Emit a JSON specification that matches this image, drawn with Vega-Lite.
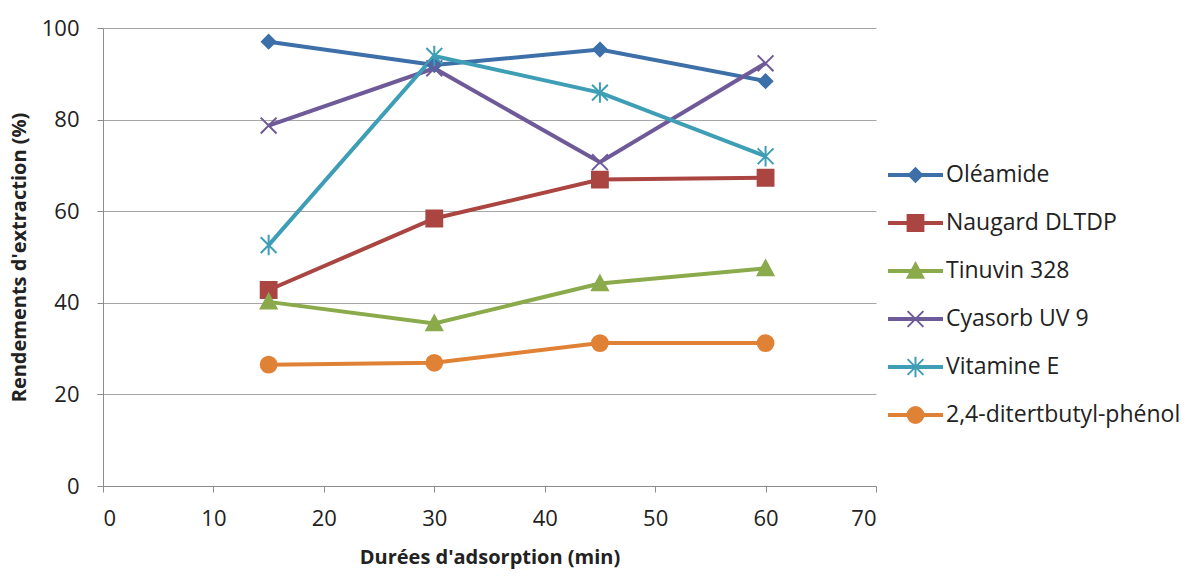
{
  "$schema": "https://vega.github.io/schema/vega-lite/v6.json",
  "padding": {"left": 9, "top": 17, "right": 0, "bottom": 3},
  "config": {"view": {"stroke": null}, "font": "Open Sans", "concat": {"spacing": 9}},
  "datasets": {
    "d": [
      {"series": "Oléamide", "t": 15, "r": 97.0},
      {"series": "Oléamide", "t": 30, "r": 91.9},
      {"series": "Oléamide", "t": 45, "r": 95.3},
      {"series": "Oléamide", "t": 60, "r": 88.4},
      {"series": "Naugard DLTDP", "t": 15, "r": 42.8},
      {"series": "Naugard DLTDP", "t": 30, "r": 58.4},
      {"series": "Naugard DLTDP", "t": 45, "r": 66.9},
      {"series": "Naugard DLTDP", "t": 60, "r": 67.3},
      {"series": "Tinuvin 328", "t": 15, "r": 40.2},
      {"series": "Tinuvin 328", "t": 30, "r": 35.5},
      {"series": "Tinuvin 328", "t": 45, "r": 44.2},
      {"series": "Tinuvin 328", "t": 60, "r": 47.5},
      {"series": "Cyasorb UV 9", "t": 15, "r": 78.7},
      {"series": "Cyasorb UV 9", "t": 30, "r": 91.2},
      {"series": "Cyasorb UV 9", "t": 45, "r": 70.7},
      {"series": "Cyasorb UV 9", "t": 60, "r": 92.3},
      {"series": "Vitamine E", "t": 15, "r": 52.6},
      {"series": "Vitamine E", "t": 30, "r": 93.9},
      {"series": "Vitamine E", "t": 45, "r": 85.9},
      {"series": "Vitamine E", "t": 60, "r": 72.0},
      {"series": "2,4-ditertbutyl-phénol", "t": 15, "r": 26.5},
      {"series": "2,4-ditertbutyl-phénol", "t": 30, "r": 26.9},
      {"series": "2,4-ditertbutyl-phénol", "t": 45, "r": 31.2},
      {"series": "2,4-ditertbutyl-phénol", "t": 60, "r": 31.2}
    ]
  },
  "hconcat": [
    {
      "width": 773,
      "height": 458,
      "data": {"name": "d"},
      "encoding": {
        "x": {
          "field": "t", "type": "quantitative",
          "scale": {"domain": [0, 70], "nice": false},
          "axis": {
            "values": [0, 10, 20, 30, 40, 50, 60, 70], "grid": false,
            "domainColor": "#8C8C8C", "tickColor": "#8C8C8C", "tickSize": 6,
            "labelFontSize": 22, "labelColor": "#222222", "labelPadding": 16,
            "title": "Durées d'adsorption (min)", "titleFontSize": 20, "titleFontWeight": "bold",
            "titleColor": "#222222", "titlePadding": 18
          }
        },
        "y": {
          "field": "r", "type": "quantitative",
          "scale": {"domain": [0, 100], "nice": false},
          "axis": {
            "values": [0, 20, 40, 60, 80, 100], "grid": true, "gridColor": "#A6A6A6",
            "domainColor": "#8C8C8C", "tickColor": "#8C8C8C", "tickSize": 6,
            "labelFontSize": 22, "labelColor": "#222222", "labelPadding": 18,
            "title": "Rendements d'extraction (%)", "titleFontSize": 20, "titleFontWeight": "bold",
            "titleColor": "#222222", "titlePadding": 12
          }
        },
        "color": {
          "field": "series", "type": "nominal", "legend": null,
          "scale": {
            "domain": ["Oléamide", "Naugard DLTDP", "Tinuvin 328", "Cyasorb UV 9", "Vitamine E", "2,4-ditertbutyl-phénol"],
            "range": ["#3D6FA8", "#AA4541", "#8AAA4B", "#6E5A98", "#3E9EB6", "#E08236"]
          }
        }
      },
      "layer": [
        {"mark": {"type": "line", "strokeWidth": 4}},
        {
          "mark": {"type": "point", "filled": true, "size": 250, "opacity": 1, "strokeWidth": 2},
          "encoding": {
            "stroke": {
              "field": "series", "type": "nominal", "legend": null,
              "scale": {
                "domain": ["Oléamide", "Naugard DLTDP", "Tinuvin 328", "Cyasorb UV 9", "Vitamine E", "2,4-ditertbutyl-phénol"],
                "range": ["#3D6FA8", "#AA4541", "#8AAA4B", "#6E5A98", "#3E9EB6", "#E08236"]
              }
            },
            "shape": {
              "field": "series", "type": "nominal", "legend": null,
              "scale": {
                "domain": ["Oléamide", "Naugard DLTDP", "Tinuvin 328", "Cyasorb UV 9", "Vitamine E", "2,4-ditertbutyl-phénol"],
                "range": ["M0,-0.85L0.85,0L0,0.85L-0.85,0Z", "M-1,-1H1V1H-1Z", "M0,-1L1,0.85H-1Z", "M-1,-1L1,1M-1,1L1,-1", "M-1,-1L1,1M-1,1L1,-1M0,-1.3V1.3", "circle"]
              }
            }
          }
        }
      ]
    },
    {
      "width": 290,
      "height": 458,
      "data": {"name": "d"},
      "transform": [{"filter": "datum.t == 15"}],
      "encoding": {
        "y": {
          "field": "series", "type": "nominal", "axis": null,
          "scale": {
            "type": "point", "padding": 0,
            "domain": ["Oléamide", "Naugard DLTDP", "Tinuvin 328", "Cyasorb UV 9", "Vitamine E", "2,4-ditertbutyl-phénol"],
            "range": [147, 387]
          }
        },
        "color": {
          "field": "series", "type": "nominal", "legend": null,
          "scale": {
            "domain": ["Oléamide", "Naugard DLTDP", "Tinuvin 328", "Cyasorb UV 9", "Vitamine E", "2,4-ditertbutyl-phénol"],
            "range": ["#3D6FA8", "#AA4541", "#8AAA4B", "#6E5A98", "#3E9EB6", "#E08236"]
          }
        }
      },
      "layer": [
        {
          "mark": {"type": "rule", "strokeWidth": 4},
          "encoding": {
            "x": {"datum": 0, "type": "quantitative", "scale": {"domain": [0, 290], "range": [0, 290], "nice": false}, "axis": null},
            "x2": {"datum": 55}
          }
        },
        {
          "mark": {"type": "point", "filled": true, "size": 250, "opacity": 1, "strokeWidth": 2},
          "encoding": {
            "x": {"datum": 27.5, "type": "quantitative"},
            "stroke": {
              "field": "series", "type": "nominal", "legend": null,
              "scale": {
                "domain": ["Oléamide", "Naugard DLTDP", "Tinuvin 328", "Cyasorb UV 9", "Vitamine E", "2,4-ditertbutyl-phénol"],
                "range": ["#3D6FA8", "#AA4541", "#8AAA4B", "#6E5A98", "#3E9EB6", "#E08236"]
              }
            },
            "shape": {
              "field": "series", "type": "nominal", "legend": null,
              "scale": {
                "domain": ["Oléamide", "Naugard DLTDP", "Tinuvin 328", "Cyasorb UV 9", "Vitamine E", "2,4-ditertbutyl-phénol"],
                "range": ["M0,-0.85L0.85,0L0,0.85L-0.85,0Z", "M-1,-1H1V1H-1Z", "M0,-1L1,0.85H-1Z", "M-1,-1L1,1M-1,1L1,-1", "M-1,-1L1,1M-1,1L1,-1M0,-1.3V1.3", "circle"]
              }
            }
          }
        },
        {
          "mark": {"type": "text", "align": "left", "baseline": "middle", "fontSize": 23, "color": "#222222"},
          "encoding": {
            "x": {"datum": 58, "type": "quantitative"},
            "text": {"field": "series", "type": "nominal"},
            "color": {"value": "#222222"}
          }
        }
      ]
    }
  ]
}
